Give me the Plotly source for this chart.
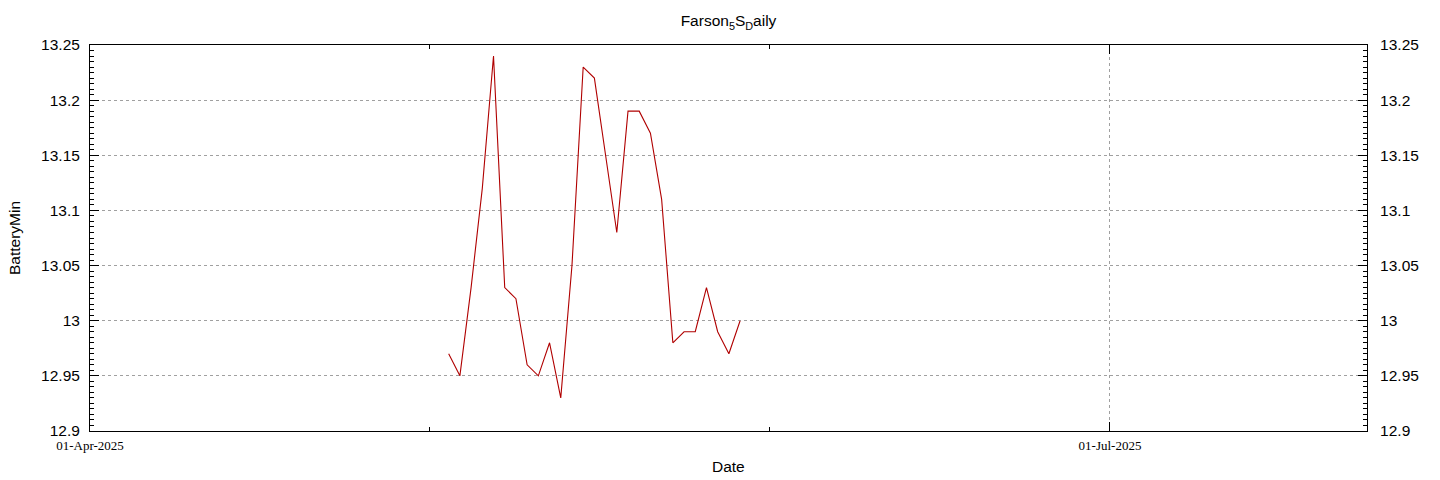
import plotly.graph_objects as go

dates = [
    "2025-05-03", "2025-05-04", "2025-05-05", "2025-05-06", "2025-05-07",
    "2025-05-08", "2025-05-09", "2025-05-10", "2025-05-11", "2025-05-12",
    "2025-05-13", "2025-05-14", "2025-05-15", "2025-05-16", "2025-05-17",
    "2025-05-18", "2025-05-19", "2025-05-20", "2025-05-21", "2025-05-22",
    "2025-05-23", "2025-05-24", "2025-05-25", "2025-05-26", "2025-05-27",
    "2025-05-28", "2025-05-29",
]
battery_min = [
    12.97, 12.95, 13.03, 13.12, 13.24,
    13.03, 13.02, 12.96, 12.95, 12.98,
    12.93, 13.05, 13.23, 13.22, 13.15,
    13.08, 13.19, 13.19, 13.17, 13.11,
    12.98, 12.99, 12.99, 13.03, 12.99,
    12.97, 13.00,
]
y_tickvals = [12.9, 12.95, 13.0, 13.05, 13.1, 13.15, 13.2, 13.25]
y_ticktext = ["12.9", "12.95", "13", "13.05", "13.1", "13.15", "13.2", "13.25"]
x_tickvals = ["2025-04-01", "2025-07-01"]
x_ticktext = ["01-Apr-2025", "01-Jul-2025"]
x_range = ["2025-04-01", "2025-07-23 22:20"]
y_range = [12.9, 13.25]

SANS = "Liberation Sans, Arial, sans-serif"
SERIF = "Liberation Serif, Times New Roman, serif"
GRID = "#a0a0a0"
MINOR_X_MS = 91 / 3 * 86400000

# page body has an 8px margin, so the figure is 1432x472 placed at (8, 8)
W, H = 1432, 472

fig = go.Figure()
fig.add_trace(go.Scatter(
    x=dates, y=battery_min, mode="lines",
    line=dict(color="#b00000", width=1.1),
    showlegend=False,
))
fig.add_trace(go.Scatter(
    x=dates, y=battery_min, mode="lines", yaxis="y2",
    line=dict(color="rgba(0,0,0,0)", width=0),
    showlegend=False, hoverinfo="skip",
))

common_y = dict(
    range=y_range, tickvals=y_tickvals, ticktext=y_ticktext,
    ticks="inside", ticklen=9, tickwidth=1, tickcolor="black",
    tickfont=dict(family=SANS, size=15.5, color="black"),
    showline=True, linecolor="black", linewidth=1,
    zeroline=False, automargin=False,
    minor=dict(dtick=0.005, ticks="inside", ticklen=4, tickcolor="black", showgrid=False),
)

fig.update_layout(
    width=W, height=H,
    margin=dict(l=82, r=73, t=37, b=49),
    paper_bgcolor="white", plot_bgcolor="white",
    title=dict(
        text="Farson<sub>5</sub>S<sub>D</sub>aily",
        x=0.5, xref="paper", y=1 - 13 / H, yref="container", yanchor="middle",
        font=dict(family=SANS, size=15.5, color="black"),
    ),
    xaxis=dict(
        type="date", range=x_range,
        tickvals=x_tickvals, ticktext=x_ticktext,
        ticks="inside", ticklen=9, tickcolor="black",
        tickfont=dict(family=SERIF, size=13, color="black"),
        showline=True, linecolor="black", linewidth=1, mirror="ticks",
        showgrid=True, gridcolor=GRID, griddash="dot", gridwidth=1,
        zeroline=False, automargin=False, ticklabelstandoff=2,
        minor=dict(tick0="2025-04-01", dtick=MINOR_X_MS, ticks="inside", ticklen=4,
                   tickcolor="black", showgrid=False),
    ),
    yaxis=dict(
        **common_y, side="left", mirror=True,
        showgrid=True, gridcolor=GRID, griddash="dot", gridwidth=1,
        ticklabelstandoff=6,
    ),
    yaxis2=dict(
        **common_y, side="right", overlaying="y", showgrid=False,
        ticklabelstandoff=9,
    ),
    annotations=[
        dict(text="Date", xref="paper", yref="paper", x=0.5, y=0, yanchor="middle",
             yshift=-35, showarrow=False, font=dict(family=SANS, size=15.5, color="black")),
        dict(text="BatteryMin", xref="paper", yref="paper", x=0, y=0.5, xanchor="center",
             yanchor="middle", xshift=-76, textangle=-90, showarrow=False,
             font=dict(family=SANS, size=15.5, color="black")),
    ],
)

fig.write_html("out.html")
